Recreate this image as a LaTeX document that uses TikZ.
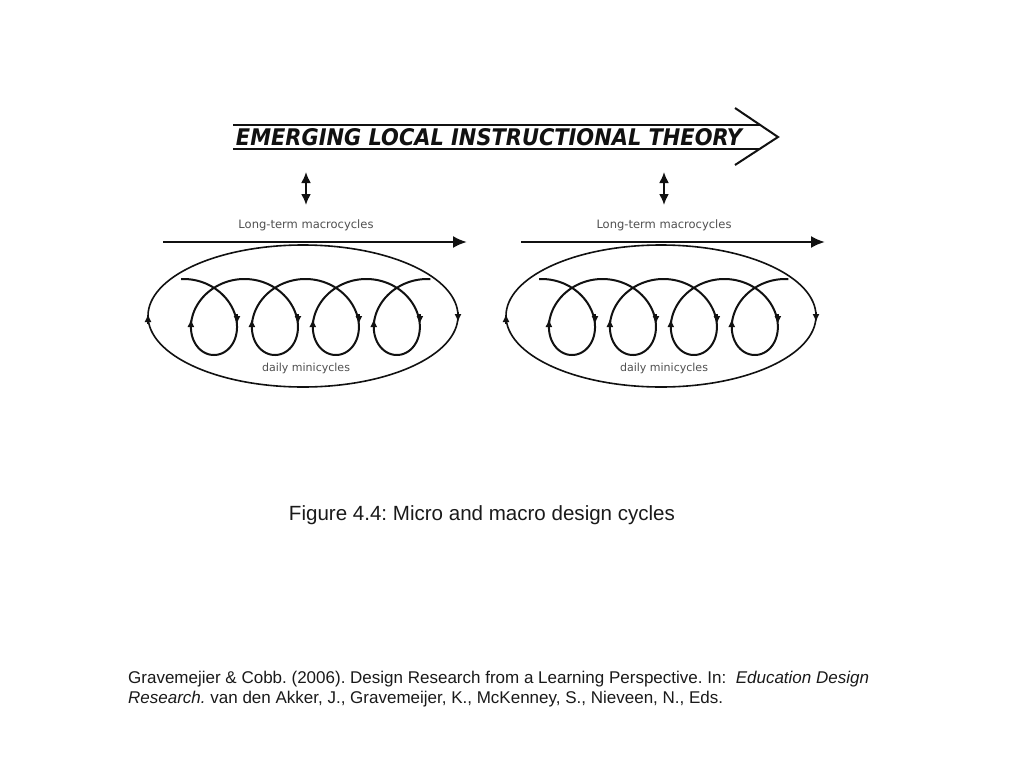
\documentclass[tikz,border=0pt]{standalone}
\usepackage{fontspec}
\setmainfont{Liberation Sans}
\newfontfamily\dvs{DejaVu Sans}
\usetikzlibrary{arrows.meta}
\frenchspacing
\definecolor{ink}{HTML}{111111}
\definecolor{lblgray}{HTML}{505050}
\definecolor{txtdark}{HTML}{1A1A1A}
\tikzset{
  bigline/.style={draw=ink, line width=2.6pt},
  chevron/.style={draw=ink, line width=2pt, line join=miter},
  dblarrow/.style={draw=ink, line width=2pt, {Latex[length=11pt,width=10pt]}-{Latex[length=11pt,width=10pt]}},
  macroarrow/.style={draw=ink, line width=2.2pt, -{Latex[length=14pt,width=12pt]}},
  ellipseline/.style={draw=ink, line width=1.6pt},
  loopline/.style={draw=ink, line width=2pt},
  smalltip/.style={draw=ink, line width=1.5pt, -{Latex[length=8pt,width=7pt]}},
  graylbl/.style={inner sep=0pt, text=lblgray, font=\dvs},
  plain/.style={inner sep=0pt, text=txtdark},
}
\begin{document}
\begin{tikzpicture}[x=1pt,y=-1pt]
\useasboundingbox[fill=white] (0,0) rectangle (1024,768);

% big arrow
\coordinate (tl) at (233,125);
\coordinate (tr) at (760,125);
\coordinate (bl) at (233,149);
\coordinate (br) at (760,149);
\coordinate (cht) at (735,108);
\coordinate (chp) at (778,137);
\coordinate (chb) at (735,165);
\draw[bigline] (tl) -- (tr);
\draw[bigline] (bl) -- (br);
\draw[chevron] (cht) -- (chp) -- (chb);
\node[inner sep=0pt, text=ink] (title) at (489,137)
  {\resizebox{506pt}{17pt}{\dvs\bfseries\itshape EMERGING LOCAL INSTRUCTIONAL THEORY}};

\foreach \s/\n in {0/a,358/b}{
\begin{scope}[shift={(\s,0)}]
  \coordinate (up\n) at (306,172);
  \coordinate (dn\n) at (306,205);
  \draw[dblarrow] (up\n) -- (dn\n);
  \node[graylbl] (lt\n) at (306,225) {\resizebox{135pt}{!}{Long-term macrocycles}};
  \coordinate (hs\n) at (163,242);
  \coordinate (he\n) at (467,242);
  \draw[macroarrow] (hs\n) -- (he\n);
  \coordinate (ec\n) at (303,316);
  \draw[ellipseline] (ec\n) ellipse [x radius=155pt, y radius=71pt];
  \draw[smalltip] (148,324) -- (148,314);
  \draw[smalltip] (458,312) -- (458,322);
  \draw[loopline, variable=\t, domain=-0.05:25.2, samples=500]
    plot ({183.5+9.7*\t+37*sin(\t r)}, {317-38*cos(\t r)});
  \foreach \k in {0,1,2,3}{
    \draw[smalltip] ({190.9+60.95*\k},330) -- ({190.9+60.95*\k},319);
    \draw[smalltip] ({237+60.95*\k},314) -- ({237+60.95*\k},324);
  }
  \node[graylbl] (dm\n) at (306,368) {\resizebox{88pt}{!}{daily minicycles}};
\end{scope}
}

\node[plain] (cap) at (482,515) {\resizebox{386pt}{!}{Figure 4.4: Micro and macro design cycles}};
\node[plain, anchor=base west] (cit1) at (128,683)
  {\fontsize{17}{20}\selectfont Gravemejier \& Cobb. (2006). Design Research from a Learning Perspective. In:\ \ \textit{Education Design}};
\node[plain, anchor=base west] (cit2) at (128,703)
  {\fontsize{17}{20}\selectfont \textit{Research.} van den Akker, J., Gravemeijer, K., McKenney, S., Nieveen, N., Eds.};
\end{tikzpicture}
\end{document}
